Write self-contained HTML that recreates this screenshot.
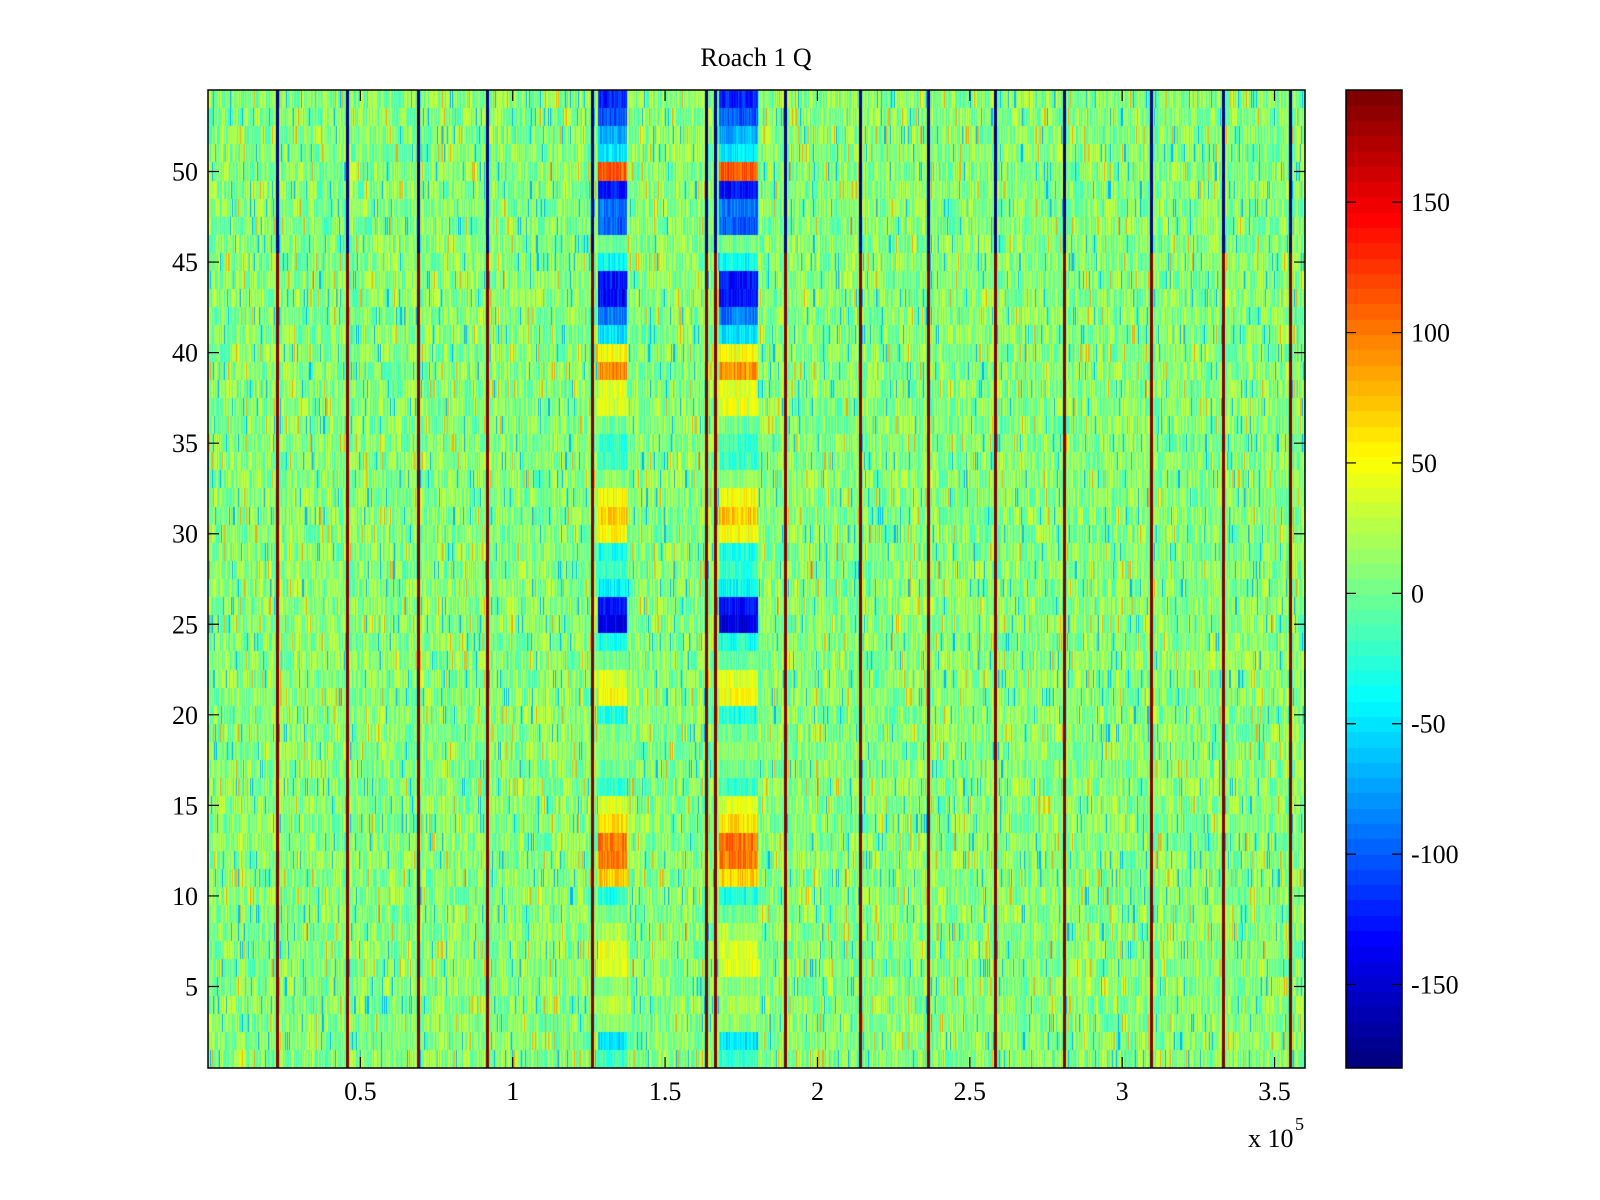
<!DOCTYPE html>
<html><head><meta charset="utf-8"><style>
html,body{margin:0;padding:0;background:#fff;width:1600px;height:1200px;overflow:hidden}
#wrap{position:relative;width:1600px;height:1200px}
canvas,svg{position:absolute;left:0;top:0}
text{font-family:"Liberation Serif",serif;font-size:26px;fill:#000}
</style></head><body>
<div id="wrap">
<canvas id="hm" width="1600" height="1200"></canvas>
<svg id="ax" width="1600" height="1200"></svg>
</div>
<script>
// ---- data ----
const xDomain = [0, 360000];
const yDomain = [0.5, 54.5];
const cDomain = [-182, 193];
const xTicks = [50000,100000,150000,200000,250000,300000,350000];
const xTickLabels = ["0.5","1","1.5","2","2.5","3","3.5"];
const yTicks = [5,10,15,20,25,30,35,40,45,50];
const cTicks = [-150,-100,-50,0,50,100,150];
const baseValue = 8;
const stripeX = [22800,45600,68800,91600,125900,163400,166400,189200,214100,236200,258300,280900,309400,333100,355000];
const stripeTopValue = -182;
const stripeBottomValue = 190;
const stripeSplitRow = 46;
const blobStart = [127700,167400];
const blobEnd = [137500,180200];
// blob values per row, row 1 .. row 54
const blobRows = [-20,-50,10,20,10,40,40,20,0,-30,70,100,100,60,40,-20,0,10,0,-30,50,40,0,-30,-140,-130,-40,-20,-30,50,70,50,10,-20,-20,0,40,40,90,50,-50,-90,-130,-130,-40,0,-100,-90,-130,110,-50,-70,-100,-120];

// ---- scales ----
const L=208,R=1305,T=90,B=1068;
const sx=v=>L+(v-xDomain[0])/(xDomain[1]-xDomain[0])*(R-L);
const sy=v=>T+(yDomain[1]-v)/(yDomain[1]-yDomain[0])*(B-T);
const CL=1346,CR=1402;
const sc=v=>T+(cDomain[1]-v)/(cDomain[1]-cDomain[0])*(B-T);
function jet(v){
  let t=(v-cDomain[0])/(cDomain[1]-cDomain[0]);t=Math.max(0,Math.min(1,t));
  t=Math.floor(t*63.999)/63;
  const f=x=>Math.max(0,Math.min(1,1.5-Math.abs(4*t-x)));
  return `rgb(${Math.round(255*f(3))},${Math.round(255*f(2))},${Math.round(255*f(1))})`;
}
function hash(a,b){let h=(a*374761393+b*668265263)|0;h=(h^(h>>>13))*1274126177|0;return ((h^(h>>>16))>>>0)/4294967296;}

// ---- heatmap ----
const cv=document.getElementById('hm');const ctx=cv.getContext('2d');
for(let r=1;r<=54;r++){
  const y0=Math.round(sy(r+0.5)),y1=Math.round(sy(r-0.5));
  for(let px=L;px<R;px++){
    const n=hash(px,r);
    let v=baseValue+(n-0.5)*70+(n>0.97?40:0)-(n<0.04?40:0);
    const xv=xDomain[0]+(px-L)/(R-L)*(xDomain[1]-xDomain[0]);
    for(let b=0;b<blobStart.length;b++){
      if(xv>=blobStart[b]&&xv<=blobEnd[b]){v=blobRows[r-1]+(n-0.5)*40;}
    }
    ctx.fillStyle=jet(v);ctx.fillRect(px,y0,1,y1-y0);
  }
  for(const s of stripeX){
    ctx.fillStyle=jet(r>=stripeSplitRow?stripeTopValue:stripeBottomValue);
    ctx.fillRect(Math.round(sx(s))-1,y0,3,y1-y0);
  }
}
// colorbar
for(let i=0;i<64;i++){
  const v0=cDomain[0]+(cDomain[1]-cDomain[0])*i/64, v1=cDomain[0]+(cDomain[1]-cDomain[0])*(i+1)/64;
  ctx.fillStyle=jet((v0+v1)/2);
  const ya=sc(v1),yb=sc(v0);
  ctx.fillRect(CL,Math.floor(ya),CR-CL,Math.ceil(yb)-Math.floor(ya));
}

// ---- axes ----
const svg=document.getElementById('ax');const NS='http://www.w3.org/2000/svg';
function el(tag,attrs,txt){const e=document.createElementNS(NS,tag);for(const k in attrs)e.setAttribute(k,attrs[k]);if(txt!==undefined)e.textContent=txt;svg.appendChild(e);return e;}
let e;
e=el('rect',{x:L,y:T,width:R-L,height:B-T,fill:'none',stroke:'#000','stroke-width':1.5});


e=el('rect',{x:CL,y:T,width:CR-CL,height:B-T,fill:'none',stroke:'#000','stroke-width':1.5});


xTicks.forEach((t,i)=>{
  const x=sx(t);
  e=el('path',{d:`M${x},${B}v-11M${x},${T}v11`,stroke:'#000','stroke-width':1.2});
  
  
  e=el('text',{x:x,y:B+32,'text-anchor':'middle'},xTickLabels[i]);
  
  
});
yTicks.forEach(t=>{
  const y=sy(t);
  e=el('path',{d:`M${L},${y}h11M${R},${y}h-11`,stroke:'#000','stroke-width':1.2});
  
  
  e=el('text',{x:L-10,y:y+9,'text-anchor':'end'},String(t));
  
  
});
cTicks.forEach(t=>{
  const y=sc(t);
  e=el('path',{d:`M${CL},${y}h10M${CR},${y}h-10`,stroke:'#000','stroke-width':1.2});
  
  
  e=el('text',{x:CR+9,y:y+9},String(t));
  
  
});
e=el('text',{x:756,y:66,'text-anchor':'middle'},'Roach 1 Q');


e=el('text',{x:1248,y:1147},'x 10');


e=el('text',{x:1295,y:1130,style:'font-size:18px'},'5');


</script>
</body></html>
